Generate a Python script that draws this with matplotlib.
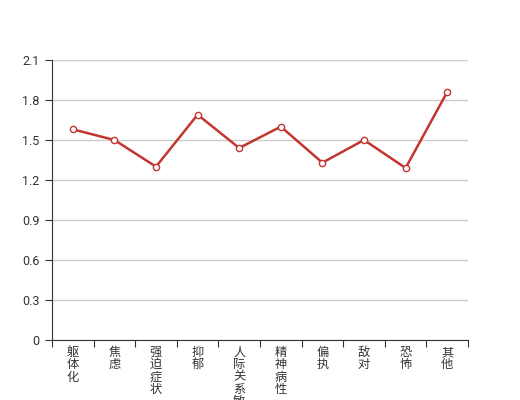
import matplotlib
matplotlib.use("Agg")
import matplotlib.pyplot as plt
import numpy as np

plt.rcParams['font.family'] = ['Noto Sans CJK SC', 'DejaVu Sans']

categories = ["躯体化", "焦虑", "强迫症状", "抑郁", "人际关系敏感", "精神病性", "偏执", "敌对", "恐怖", "其他"]
scores = [1.58, 1.50, 1.30, 1.69, 1.44, 1.60, 1.33, 1.50, 1.29, 1.86]
yticks = [0, 0.3, 0.6, 0.9, 1.2, 1.5, 1.8, 2.1]

fig = plt.figure(figsize=(5.2, 4.0), dpi=100)
ax = fig.add_axes([0.1, 0.15, 0.8, 0.7])

x = np.arange(len(categories))
ax.plot(x, scores, color="#c23531", lw=1.8, marker="o", ms=4.5,
        mfc="white", mec="#c23531", mew=1, zorder=3)

ax.set_xlim(-0.5, len(categories) - 0.5)
ax.set_ylim(0, 2.1)
ax.set_yticks(yticks)
ax.set_yticklabels([str(v) if v else "0" for v in yticks], fontsize=9,
                   color="#333333", family=["Roboto", "DejaVu Sans"])
ax.yaxis.grid(True, color="#cccccc", lw=1)
ax.set_axisbelow(True)

# category ticks sit on the boundaries, labels in the middle
ax.set_xticks(np.arange(-0.5, len(categories), 1))
ax.set_xticklabels([])
ax.tick_params(axis="x", length=5, color="#333333")
ax.tick_params(axis="y", length=5, color="#333333", pad=4)

# vertical labels: one character per row, 12 px apart
for i, name in enumerate(categories):
    for k, ch in enumerate(name):
        ax.annotate(ch, xy=(i, 0), xycoords=("data", "axes fraction"),
                    xytext=(0, -6 - 12.3 * k), textcoords="offset pixels",
                    ha="center", va="top", fontsize=8.8, color="#333333",
                    annotation_clip=False)

for s in ["top", "right"]:
    ax.spines[s].set_visible(False)
ax.spines["left"].set_color("#333333")
ax.spines["bottom"].set_color("#333333")

fig.savefig("out.png", dpi=100)
